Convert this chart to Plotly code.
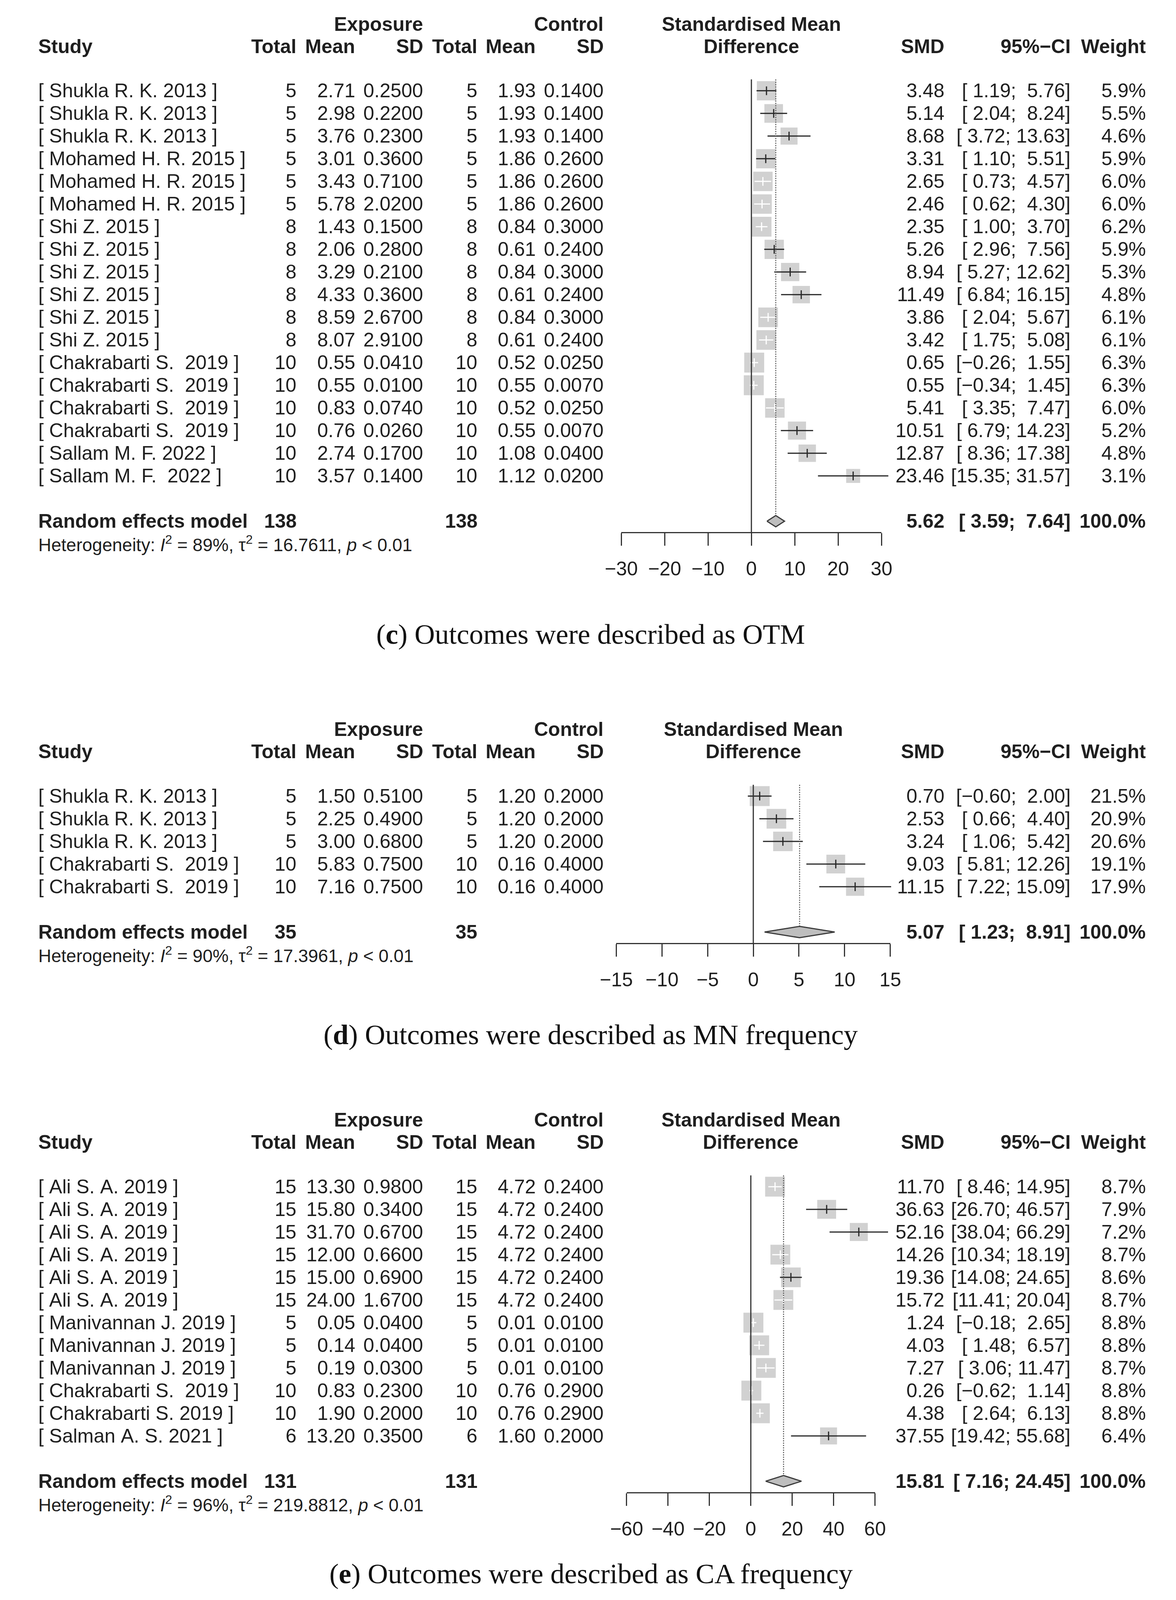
import math
import plotly.graph_objects as go

# reference canvas (all positions below are expressed as fractions of it)
W, H = 3010, 4301
S = 60.9  # row spacing in reference px
FONT = "Liberation Sans, Arial, sans-serif"
TXT = "#1f1f1f"

# ---------------- Panel (c): OTM ----------------
c_study = ["[ Shukla R. K. 2013 ]", "[ Shukla R. K. 2013 ]", "[ Shukla R. K. 2013 ]",
           "[ Mohamed H. R. 2015 ]", "[ Mohamed H. R. 2015 ]", "[ Mohamed H. R. 2015 ]",
           "[ Shi Z. 2015 ]", "[ Shi Z. 2015 ]", "[ Shi Z. 2015 ]",
           "[ Shi Z. 2015 ]", "[ Shi Z. 2015 ]", "[ Shi Z. 2015 ]",
           "[ Chakrabarti S.  2019 ]", "[ Chakrabarti S.  2019 ]",
           "[ Chakrabarti S.  2019 ]", "[ Chakrabarti S.  2019 ]",
           "[ Sallam M. F. 2022 ]", "[ Sallam M. F.  2022 ]"]
c_e_n = [5, 5, 5, 5, 5, 5, 8, 8, 8, 8, 8, 8, 10, 10, 10, 10, 10, 10]
c_e_mean = [2.71, 2.98, 3.76, 3.01, 3.43, 5.78, 1.43, 2.06, 3.29, 4.33, 8.59, 8.07,
            0.55, 0.55, 0.83, 0.76, 2.74, 3.57]
c_e_sd = [0.25, 0.22, 0.23, 0.36, 0.71, 2.02, 0.15, 0.28, 0.21, 0.36, 2.67, 2.91,
          0.041, 0.010, 0.074, 0.026, 0.17, 0.14]
c_c_n = [5, 5, 5, 5, 5, 5, 8, 8, 8, 8, 8, 8, 10, 10, 10, 10, 10, 10]
c_c_mean = [1.93, 1.93, 1.93, 1.86, 1.86, 1.86, 0.84, 0.61, 0.84, 0.61, 0.84, 0.61,
            0.52, 0.55, 0.52, 0.55, 1.08, 1.12]
c_c_sd = [0.14, 0.14, 0.14, 0.26, 0.26, 0.26, 0.30, 0.24, 0.30, 0.24, 0.30, 0.24,
          0.025, 0.007, 0.025, 0.007, 0.04, 0.02]
c_smd = [3.48, 5.14, 8.68, 3.31, 2.65, 2.46, 2.35, 5.26, 8.94, 11.49, 3.86, 3.42,
         0.65, 0.55, 5.41, 10.51, 12.87, 23.46]
c_lo = [1.19, 2.04, 3.72, 1.10, 0.73, 0.62, 1.00, 2.96, 5.27, 6.84, 2.04, 1.75,
        -0.26, -0.34, 3.35, 6.79, 8.36, 15.35]
c_hi = [5.76, 8.24, 13.63, 5.51, 4.57, 4.30, 3.70, 7.56, 12.62, 16.15, 5.67, 5.08,
        1.55, 1.45, 7.47, 14.23, 17.38, 31.57]
c_w = [5.9, 5.5, 4.6, 5.9, 6.0, 6.0, 6.2, 5.9, 5.3, 4.8, 6.1, 6.1, 6.3, 6.3, 6.0, 5.2, 4.8, 3.1]
c_re = [5.62, 3.59, 7.64]
c_total = [138, 138]
c_het = ["89%", "16.7611"]
c_ticks = [-30, -20, -10, 0, 10, 20, 30]
c_caption = "(<b>c</b>) Outcomes were described as OTM"

# ---------------- Panel (d): MN frequency ----------------
d_study = ["[ Shukla R. K. 2013 ]", "[ Shukla R. K. 2013 ]", "[ Shukla R. K. 2013 ]",
           "[ Chakrabarti S.  2019 ]", "[ Chakrabarti S.  2019 ]"]
d_e_n = [5, 5, 5, 10, 10]
d_e_mean = [1.50, 2.25, 3.00, 5.83, 7.16]
d_e_sd = [0.51, 0.49, 0.68, 0.75, 0.75]
d_c_n = [5, 5, 5, 10, 10]
d_c_mean = [1.20, 1.20, 1.20, 0.16, 0.16]
d_c_sd = [0.20, 0.20, 0.20, 0.40, 0.40]
d_smd = [0.70, 2.53, 3.24, 9.03, 11.15]
d_lo = [-0.60, 0.66, 1.06, 5.81, 7.22]
d_hi = [2.00, 4.40, 5.42, 12.26, 15.09]
d_w = [21.5, 20.9, 20.6, 19.1, 17.9]
d_re = [5.07, 1.23, 8.91]
d_total = [35, 35]
d_het = ["90%", "17.3961"]
d_ticks = [-15, -10, -5, 0, 5, 10, 15]
d_caption = "(<b>d</b>) Outcomes were described as MN frequency"

# ---------------- Panel (e): CA frequency ----------------
e_study = ["[ Ali S. A. 2019 ]", "[ Ali S. A. 2019 ]", "[ Ali S. A. 2019 ]",
           "[ Ali S. A. 2019 ]", "[ Ali S. A. 2019 ]", "[ Ali S. A. 2019 ]",
           "[ Manivannan J. 2019 ]", "[ Manivannan J. 2019 ]", "[ Manivannan J. 2019 ]",
           "[ Chakrabarti S.  2019 ]", "[ Chakrabarti S. 2019 ]", "[ Salman A. S. 2021 ]"]
e_e_n = [15, 15, 15, 15, 15, 15, 5, 5, 5, 10, 10, 6]
e_e_mean = [13.30, 15.80, 31.70, 12.00, 15.00, 24.00, 0.05, 0.14, 0.19, 0.83, 1.90, 13.20]
e_e_sd = [0.98, 0.34, 0.67, 0.66, 0.69, 1.67, 0.04, 0.04, 0.03, 0.23, 0.20, 0.35]
e_c_n = [15, 15, 15, 15, 15, 15, 5, 5, 5, 10, 10, 6]
e_c_mean = [4.72, 4.72, 4.72, 4.72, 4.72, 4.72, 0.01, 0.01, 0.01, 0.76, 0.76, 1.60]
e_c_sd = [0.24, 0.24, 0.24, 0.24, 0.24, 0.24, 0.01, 0.01, 0.01, 0.29, 0.29, 0.20]
e_smd = [11.70, 36.63, 52.16, 14.26, 19.36, 15.72, 1.24, 4.03, 7.27, 0.26, 4.38, 37.55]
e_lo = [8.46, 26.70, 38.04, 10.34, 14.08, 11.41, -0.18, 1.48, 3.06, -0.62, 2.64, 19.42]
e_hi = [14.95, 46.57, 66.29, 18.19, 24.65, 20.04, 2.65, 6.57, 11.47, 1.14, 6.13, 55.68]
e_w = [8.7, 7.9, 7.2, 8.7, 8.6, 8.7, 8.8, 8.8, 8.7, 8.8, 8.8, 6.4]
e_re = [15.81, 7.16, 24.45]
e_total = [131, 131]
e_het = ["96%", "219.8812"]
e_ticks = [-60, -40, -20, 0, 20, 40, 60]
e_caption = "(<b>e</b>) Outcomes were described as CA frequency"

# ---------------- layout geometry (reference px) ----------------
COL = dict(study=55, etot=736, emean=890, esd=1068, ctot=1210, cmean=1363,
           csd=1541, smd=2434, ci=2764, w=2962)

panels = [
    dict(study=c_study, en=c_e_n, em=c_e_mean, es=c_e_sd, cn=c_c_n, cm=c_c_mean, cs=c_c_sd,
         smd=c_smd, lo=c_lo, hi=c_hi, w=c_w, re=c_re, tot=c_total, het=c_het,
         ticks=c_ticks, cap=c_caption, y1=244, ax=(1585, 2267), cap_y=1705),
    dict(study=d_study, en=d_e_n, em=d_e_mean, es=d_e_sd, cn=d_c_n, cm=d_c_mean, cs=d_c_sd,
         smd=d_smd, lo=d_lo, hi=d_hi, w=d_w, re=d_re, tot=d_total, het=d_het,
         ticks=d_ticks, cap=d_caption, y1=2140, ax=(1572, 2290), cap_y=2782),
    dict(study=e_study, en=e_e_n, em=e_e_mean, es=e_e_sd, cn=e_c_n, cm=e_c_mean, cs=e_c_sd,
         smd=e_smd, lo=e_lo, hi=e_hi, w=e_w, re=e_re, tot=e_total, het=e_het,
         ticks=e_ticks, cap=e_caption, y1=3190, ax=(1599, 2250), cap_y=4231),
]


def nb(s):
    return s.replace(" ", "\u00a0")


def fnum(v, d):
    return f"{v:.{d}f}".replace("-", "\u2212")


def fci(lo, hi):
    return nb("[" + f"{lo:5.2f}" + "; " + f"{hi:5.2f}" + "]").replace("-", "\u2212")


fig = go.Figure()
annotations = []
shapes = []
lay = {}


def txt(text, x, y, xref, yref, anchor="right", bold=False, size=50, color=TXT, family=FONT):
    annotations.append(dict(
        text=(f"<b>{text}</b>" if bold else text), x=x, y=y, xref=xref, yref=yref,
        xanchor=anchor, yanchor="middle", showarrow=False,
        font=dict(size=size, family=family, color=color)))


for k, p in enumerate(panels):
    n = len(p["smd"])
    ykey = "yaxis" if k == 0 else f"yaxis{k + 1}"
    yname = "y" if k == 0 else f"y{k + 1}"
    xdkey = "xaxis" if k == 0 else f"xaxis{k + 1}"
    xdname = "x" if k == 0 else f"x{k + 1}"
    xvkey = f"xaxis{k + 4}"
    xvname = f"x{k + 4}"

    def rpx(r, p=p):
        return p["y1"] + (r - 1) * S

    rmin, rmax = -3, n + 5
    top_px, bot_px = rpx(rmin), rpx(rmax)
    lay[ykey] = dict(domain=[1 - bot_px / H, 1 - top_px / H], range=[rmax, rmin],
                     visible=False, fixedrange=True)

    R = max(p["ticks"])
    left, right = p["ax"]
    ppu = (right - left) / (2 * R)
    zero = (left + right) / 2
    ext = 1.35 * R
    lay[xdkey] = dict(domain=[(zero - ext * ppu) / W, (zero + ext * ppu) / W],
                      range=[-ext, ext], visible=False, anchor=yname, fixedrange=True)
    r_axis = n + 2.5
    lay[xvkey] = dict(domain=[left / W, right / W], range=[-R, R], anchor="free",
                      position=1 - rpx(r_axis) / H, showline=True, linecolor="#333",
                      linewidth=3, ticks="outside", ticklen=32, tickwidth=3,
                      tickcolor="#333", tickmode="array", tickvals=p["ticks"],
                      showgrid=False, zeroline=False, ticklabelstandoff=16,
                      tickfont=dict(size=50, family=FONT, color=TXT), fixedrange=True)

    rows = list(range(1, n + 1))
    wmax = max(p["w"])
    sides = [51 * math.sqrt(w / wmax) for w in p["w"]]
    inside = [(hi - lo) * ppu < sd for lo, hi, sd in zip(p["lo"], p["hi"], sides)]

    # study squares (area proportional to weight)
    fig.add_trace(go.Scatter(x=p["smd"], y=rows, mode="markers", xaxis=xdname, yaxis=yname,
                             marker=dict(symbol="square", size=sides, color="#bebebe",
                                         line=dict(width=0)), hoverinfo="skip"))
    # confidence intervals (white when fully inside the square)
    for white in (False, True):
        xs, ys = [], []
        for lo, hi, r, ins in zip(p["lo"], p["hi"], rows, inside):
            if ins == white:
                xs += [lo, hi, None]
                ys += [r, r, None]
        if xs:
            fig.add_trace(go.Scatter(x=xs, y=ys, mode="lines", xaxis=xdname, yaxis=yname,
                                     line=dict(color="white" if white else "#262626", width=3),
                                     hoverinfo="skip"))
    # point-estimate ticks
    fig.add_trace(go.Scatter(x=p["smd"], y=rows, mode="markers", xaxis=xdname, yaxis=yname,
                             marker=dict(symbol="line-ns", size=16,
                                         line=dict(width=3, color=["white" if i else "#262626"
                                                                   for i in inside])),
                             hoverinfo="skip"))
    # pooled estimate diamond
    r_re = n + 2
    est, rlo, rhi = p["re"]
    hh = 0.25
    fig.add_trace(go.Scatter(x=[rlo, est, rhi, est, rlo], y=[r_re, r_re - hh, r_re, r_re + hh, r_re],
                             mode="lines", fill="toself", fillcolor="#bebebe",
                             line=dict(color="#3a3a3a", width=3), xaxis=xvname, yaxis=yname,
                             hoverinfo="skip"))
    # no-effect line and pooled-estimate dotted line
    shapes.append(dict(type="line", xref=xvname, yref=yname, x0=0, x1=0, y0=0.5, y1=r_axis,
                       line=dict(color="#333", width=3), layer="below"))
    shapes.append(dict(type="line", xref=xvname, yref=yname, x0=est, x1=est, y0=0.5,
                       y1=r_re - hh, line=dict(color="#555", width=2.5, dash="dot"),
                       layer="below"))

    # headers
    rh1, rh2 = -1.94, -0.96
    txt("Exposure", COL["esd"] / W, rh1, "paper", yname, bold=True)
    txt("Control", COL["csd"] / W, rh1, "paper", yname, bold=True)
    txt("Standardised Mean", 0, rh1, xvname, yname, anchor="center", bold=True)
    txt("Difference", 0, rh2, xvname, yname, anchor="center", bold=True)
    txt("Study", COL["study"] / W, rh2, "paper", yname, anchor="left", bold=True)
    for key, lab in [("etot", "Total"), ("emean", "Mean"), ("esd", "SD"), ("ctot", "Total"),
                     ("cmean", "Mean"), ("csd", "SD"), ("smd", "SMD"), ("ci", "95%\u2212CI"),
                     ("w", "Weight")]:
        txt(lab, COL[key] / W, rh2, "paper", yname, bold=True)

    # study rows
    for i in range(n):
        r = rows[i]
        txt(nb(p["study"][i]), COL["study"] / W, r, "paper", yname, anchor="left")
        txt(str(p["en"][i]), COL["etot"] / W, r, "paper", yname)
        txt(fnum(p["em"][i], 2), COL["emean"] / W, r, "paper", yname)
        txt(fnum(p["es"][i], 4), COL["esd"] / W, r, "paper", yname)
        txt(str(p["cn"][i]), COL["ctot"] / W, r, "paper", yname)
        txt(fnum(p["cm"][i], 2), COL["cmean"] / W, r, "paper", yname)
        txt(fnum(p["cs"][i], 4), COL["csd"] / W, r, "paper", yname)
        txt(fnum(p["smd"][i], 2), COL["smd"] / W, r, "paper", yname)
        txt(fci(p["lo"][i], p["hi"][i]), COL["ci"] / W, r, "paper", yname)
        txt(fnum(p["w"][i], 1) + "%", COL["w"] / W, r, "paper", yname)

    # pooled row + heterogeneity
    txt("Random effects model", COL["study"] / W, r_re, "paper", yname, anchor="left", bold=True)
    txt(str(p["tot"][0]), COL["etot"] / W, r_re, "paper", yname, bold=True)
    txt(str(p["tot"][1]), COL["ctot"] / W, r_re, "paper", yname, bold=True)
    txt(fnum(est, 2), COL["smd"] / W, r_re, "paper", yname, bold=True)
    txt(fci(rlo, rhi), COL["ci"] / W, r_re, "paper", yname, bold=True)
    txt("100.0%", COL["w"] / W, r_re, "paper", yname, bold=True)
    het = (f"Heterogeneity: <i>I</i><sup>2</sup> = {p['het'][0]}, "
           f"\u03c4<sup>2</sup> = {p['het'][1]}, <i>p</i> &lt; 0.01")
    txt(het, COL["study"] / W, r_re + 1, "paper", yname, anchor="left", size=46)

    # caption
    annotations.append(dict(text=p["cap"], x=1505 / W, y=1 - p["cap_y"] / H, xref="paper",
                            yref="paper", xanchor="center", yanchor="middle", showarrow=False,
                            font=dict(size=72, family="Liberation Serif, Times New Roman, serif",
                                      color="#111")))

fig.update_layout(autosize=True, margin=dict(l=0, r=0, t=0, b=0),
                  paper_bgcolor="white", plot_bgcolor="rgba(0,0,0,0)", showlegend=False,
                  font=dict(family=FONT, color=TXT), annotations=annotations, shapes=shapes,
                  **lay)

# fit the figure to the actual browser viewport (all geometry is in fractions)
fit = ("document.body.style.margin='0px';"
       "document.documentElement.style.overflow='hidden';"
       "document.body.style.overflow='hidden';"
       "var gd=document.getElementById('{plot_id}');"
       "gd.style.width=window.innerWidth+'px';gd.style.height=window.innerHeight+'px';"
       "Plotly.relayout(gd,{width:window.innerWidth,height:window.innerHeight});")
fig.write_html("out.html", config={"displayModeBar": False, "staticPlot": True},
               default_width="100vw", default_height="100vh", post_script=fit)
